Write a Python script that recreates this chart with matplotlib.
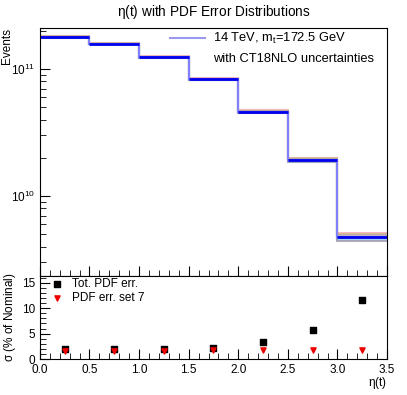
import matplotlib
matplotlib.use("Agg")
import matplotlib.pyplot as plt
from matplotlib.ticker import MultipleLocator, LogLocator, NullFormatter
import numpy as np

plt.rcParams['font.family'] = ['Liberation Sans', 'DejaVu Sans']
plt.rcParams['mathtext.fontset'] = 'custom'
plt.rcParams['mathtext.rm'] = 'Liberation Sans'
plt.rcParams['mathtext.it'] = 'Liberation Sans'

# bin edges in eta(t)
edges = [0.0, 0.5, 1.0, 1.5, 2.0, 2.5, 3.0, 3.5]
centers = [0.25, 0.75, 1.25, 1.75, 2.25, 2.75, 3.25]

# nominal event yields per bin
nominal = [1.79e11, 1.58e11, 1.24e11, 8.3e10, 4.61e10, 1.92e10, 4.75e9]

# a few PDF error members, as % deviation from nominal per bin
var_pct = [
    [1.2, 1.3, 1.4, 1.6, 2.6, 4.5, 8.5],
    [0.8, 0.8, 0.9, 1.2, 1.8, 3.0, 5.5],
    [0.4, 0.4, 0.5, 0.6, 0.9, 1.6, 3.0],
    [-0.4, -0.4, -0.5, -0.6, -0.9, -1.5, -2.5],
    [-0.9, -0.9, -1.0, -1.2, -1.6, -3.0, -5.0],
    [-1.3, -1.3, -1.4, -1.6, -2.4, -4.0, -6.5],
]
var_colors = ['#f0a0a0', '#d8b890', '#a8a0a0', '#c09090', '#70d0ff', '#a090a0']

# bottom panel: uncertainty in % of nominal
tot_err = [2.0, 1.9, 1.9, 2.2, 3.3, 5.7, 11.7]
set7_err = [1.5, 1.5, 1.6, 1.7, 1.8, 1.8, 1.8]

fig = plt.figure(figsize=(4.07, 3.95), dpi=100)
ax = fig.add_axes([0.098, 0.301, 0.853, 0.628])
axr = fig.add_axes([0.098, 0.091, 0.853, 0.210], sharex=ax)

nom = np.array(nominal)
for pct, c in zip(var_pct, var_colors):
    vals = nom * (1 + np.array(pct) / 100.0)
    ax.stairs(vals, edges, color=c, lw=1.5, alpha=0.7, baseline=None)
ax.stairs(nominal, edges, color='#8080ff', lw=1.5, baseline=None)
ax.hlines(nominal, edges[:-1], edges[1:], color='#0000ee', lw=2)

ax.set_yscale('log')
ax.set_ylim(2.34e9, 2.1e11)
ax.set_xlim(0, 3.5)
ax.yaxis.set_major_locator(LogLocator(base=10))
ax.yaxis.set_minor_locator(LogLocator(base=10, subs=np.arange(2, 10)))
ax.yaxis.set_minor_formatter(NullFormatter())
ax.tick_params(axis='both', which='both', direction='in', labelsize=8.5)
ax.tick_params(axis='x', labelbottom=False)
ax.tick_params(which='major', length=7)
ax.tick_params(which='minor', length=4)
ax.xaxis.set_major_locator(MultipleLocator(0.5))
ax.xaxis.set_minor_locator(MultipleLocator(0.1))
ax.set_title(r'$\eta$(t) with PDF Error Distributions', fontsize=9.8, pad=9)
fig.text(0.017, 0.93, 'Events', rotation=90, ha='center', va='top', fontsize=8.5)

ax.plot([], [], color='#9999ee', lw=1.5, label=r'14 TeV, m$_t$=172.5 GeV')
ax.plot([], [], color='none', label='with CT18NLO uncertainties')
ax.legend(loc='upper left', bbox_to_anchor=(0.418, 0.921),
          bbox_transform=fig.transFigure, frameon=False, fontsize=9.3,
          handlelength=2.7, handletextpad=0.6, borderpad=0, borderaxespad=0,
          labelspacing=0.55)

axr.scatter(centers, tot_err, marker='s', s=14, color='black', label='Tot. PDF err.')
axr.scatter(centers, set7_err, marker='v', s=14, color='#ee0000', label='PDF err. set 7')
axr.set_ylim(0, 16.3)
axr.yaxis.set_major_locator(MultipleLocator(5))
axr.yaxis.set_minor_locator(MultipleLocator(1))
axr.tick_params(axis='both', which='both', direction='in', labelsize=8.5)
axr.tick_params(which='major', length=7)
axr.tick_params(which='minor', length=4)
fig.text(0.951, 0.03, r'$\eta$(t)', ha='right', va='center', fontsize=8.5)
axr.set_ylabel(r'$\sigma$ (% of Nominal)', fontsize=8.5)
axr.yaxis.set_label_coords(-0.062, 0.5)
axr.legend(loc='upper left', bbox_to_anchor=(0.118, 0.295),
           bbox_transform=fig.transFigure, frameon=False, fontsize=8.5,
           handletextpad=0.5, borderaxespad=0, labelspacing=0.15,
           borderpad=0, handlelength=1.5)

fig.savefig('out.png', dpi=100)
